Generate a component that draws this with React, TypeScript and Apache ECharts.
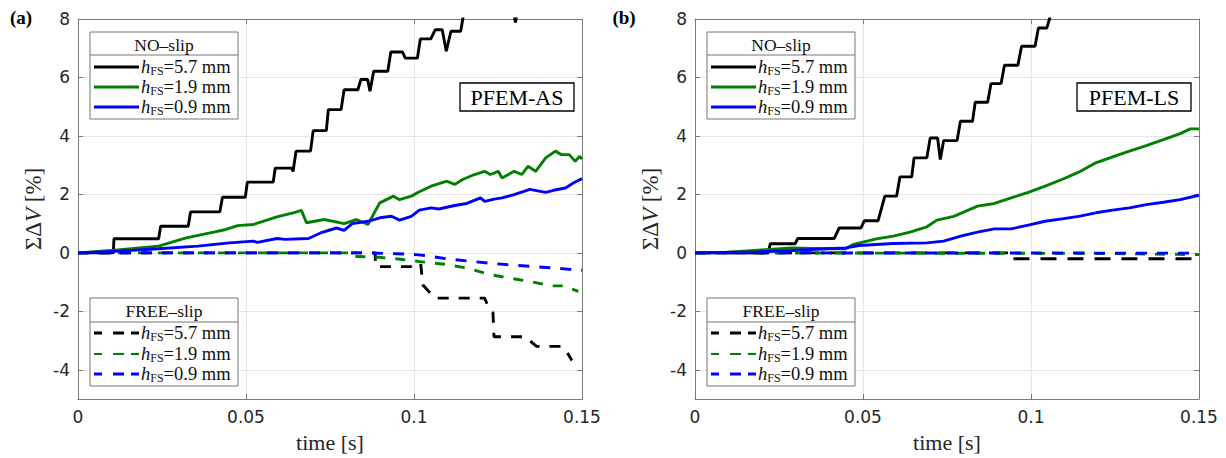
import React, { useEffect, useRef } from "react";
import * as echarts from "echarts";

type P = [number, number][];

// ---------- texts ----------
const panelLabels = ["(a)", "(b)"];
const methodLabels = ["PFEM-AS", "PFEM-LS"];
const legendTitles = ["NO\u2013slip", "FREE\u2013slip"];
const hValues = ["5.7", "1.9", "0.9"];
const xTicks = [0, 0.05, 0.1, 0.15];
const yTicks = [-4, -2, 0, 2, 4, 6, 8];

// ---------- data: panel (a) PFEM-AS ----------
const asNo57: P = [
  [0, 0], [0.0105, 0], [0.0107, 0.48], [0.024, 0.48], [0.0246, 0.91], [0.0328, 0.91], [0.0335, 1.4],
  [0.0422, 1.4], [0.043, 1.9], [0.0498, 1.9], [0.0504, 2.42], [0.0581, 2.42], [0.0587, 2.9],
  [0.0636, 2.9], [0.064, 2.78], [0.0649, 3.48], [0.0692, 3.48], [0.07, 4.18], [0.0739, 4.18],
  [0.0745, 4.9], [0.0783, 4.9], [0.0792, 5.58], [0.0833, 5.58], [0.0842, 5.93], [0.0862, 5.93],
  [0.0869, 5.53], [0.088, 6.21], [0.0922, 6.21], [0.0931, 6.87], [0.0966, 6.87], [0.0974, 6.66],
  [0.101, 6.66], [0.1019, 7.32], [0.105, 7.32], [0.1063, 7.63], [0.1084, 7.63], [0.1096, 6.9],
  [0.111, 7.58], [0.1139, 7.58], [0.1151, 8.4], [0.129, 8.6], [0.1302, 7.88], [0.1312, 8.6],
  [0.15, 9.5],
];
const asNo19: P = [
  [0, 0], [0.011, 0.09], [0.024, 0.23], [0.0322, 0.51], [0.0404, 0.71], [0.044, 0.8], [0.0475, 0.93],
  [0.0522, 0.97], [0.0592, 1.23], [0.064, 1.37], [0.0665, 1.45], [0.068, 1.03], [0.0733, 1.14],
  [0.0792, 1.0], [0.0828, 1.14], [0.0863, 0.97], [0.0898, 1.71], [0.0939, 1.94], [0.0957, 1.82],
  [0.0992, 1.94], [0.1016, 2.09], [0.1051, 2.28], [0.1098, 2.45], [0.1121, 2.34], [0.1145, 2.51],
  [0.118, 2.68], [0.121, 2.79], [0.1227, 2.68], [0.1251, 2.79], [0.1262, 2.56], [0.1298, 2.79],
  [0.1321, 2.68], [0.1339, 2.96], [0.1362, 2.79], [0.1392, 3.25], [0.1421, 3.48], [0.1439, 3.36],
  [0.1462, 3.36], [0.148, 3.13], [0.1492, 3.3], [0.15, 3.21],
];
const asNo09: P = [
  [0, 0], [0.0122, 0.06], [0.024, 0.14], [0.0357, 0.23], [0.0451, 0.34], [0.0522, 0.4], [0.0534, 0.36],
  [0.0592, 0.49], [0.0616, 0.46], [0.0686, 0.49], [0.0722, 0.68], [0.0769, 0.85], [0.0792, 0.77],
  [0.0816, 1.0], [0.0863, 1.08], [0.0898, 1.2], [0.0933, 1.25], [0.0957, 1.12], [0.0992, 1.25],
  [0.1016, 1.46], [0.1051, 1.54], [0.1074, 1.5], [0.1121, 1.62], [0.1157, 1.69], [0.1198, 1.88],
  [0.121, 1.76], [0.1239, 1.84], [0.1262, 1.88], [0.1298, 1.99], [0.1345, 2.17], [0.1392, 2.07],
  [0.1415, 2.14], [0.1451, 2.22], [0.1474, 2.39], [0.15, 2.54],
];
const asFree57: P = [
  [0, 0], [0.0884, 0], [0.0886, -0.47], [0.099, -0.47], [0.1, -0.37], [0.102, -0.37], [0.1026, -1.09],
  [0.1062, -1.55], [0.121, -1.55], [0.1225, -1.95], [0.1235, -2.05], [0.1238, -2.87], [0.133, -2.87],
  [0.1365, -3.2], [0.144, -3.2], [0.1454, -3.37], [0.147, -3.68],
];
const asFree19: P = [
  [0, 0], [0.0812, 0], [0.0815, -0.12], [0.0885, -0.14], [0.096, -0.22], [0.1018, -0.3],
  [0.1092, -0.39], [0.1157, -0.52], [0.1221, -0.73], [0.1286, -0.87], [0.1345, -0.98],
  [0.141, -1.13], [0.1444, -1.13], [0.1489, -1.32],
];
const asFree09: P = [
  [0, 0], [0.085, 0], [0.095, -0.03], [0.1005, -0.06], [0.104, -0.1], [0.11, -0.21], [0.117, -0.29],
  [0.1238, -0.37], [0.1306, -0.43], [0.137, -0.48], [0.144, -0.54], [0.15, -0.6],
];

// ---------- data: panel (b) PFEM-LS ----------
const lsNo57: P = [
  [0, 0], [0.0218, 0], [0.0224, 0.31], [0.0298, 0.31], [0.0306, 0.49], [0.0414, 0.49], [0.0429, 0.85],
  [0.0494, 0.85], [0.0504, 1.1], [0.0545, 1.1], [0.0565, 1.94], [0.06, 1.94], [0.061, 2.6],
  [0.0645, 2.6], [0.0652, 3.25], [0.069, 3.25], [0.07, 3.93], [0.0722, 3.93], [0.073, 3.19],
  [0.074, 3.84], [0.078, 3.84], [0.079, 4.5], [0.0826, 4.5], [0.0834, 5.15], [0.0871, 5.15],
  [0.0881, 5.79], [0.0911, 5.79], [0.0921, 6.42], [0.0961, 6.42], [0.0972, 7.07], [0.1012, 7.07],
  [0.1022, 7.69], [0.1047, 7.69], [0.106, 8.2], [0.15, 12],
];
const lsNo19: P = [
  [0, 0], [0.0087, 0.01], [0.0188, 0.09], [0.0288, 0.17], [0.0389, 0.14], [0.0449, 0.14], [0.0469, 0.28],
  [0.054, 0.48], [0.059, 0.57], [0.064, 0.71], [0.069, 0.89], [0.072, 1.12], [0.077, 1.25],
  [0.0841, 1.6], [0.0891, 1.69], [0.0941, 1.88], [0.0992, 2.07], [0.1042, 2.28], [0.1092, 2.51],
  [0.1142, 2.76], [0.1193, 3.08], [0.1243, 3.28], [0.1293, 3.48], [0.1343, 3.67], [0.1394, 3.87],
  [0.1444, 4.08], [0.1474, 4.24], [0.15, 4.24],
];
const lsNo09: P = [
  [0, 0], [0.0188, 0.03], [0.0288, 0.08], [0.0389, 0.14], [0.0449, 0.17], [0.0489, 0.25], [0.059, 0.32],
  [0.069, 0.34], [0.074, 0.4], [0.0791, 0.57], [0.0841, 0.71], [0.0891, 0.82], [0.0941, 0.82],
  [0.0992, 0.95], [0.1042, 1.08], [0.1092, 1.16], [0.1142, 1.25], [0.1193, 1.37], [0.1243, 1.46],
  [0.1293, 1.54], [0.1343, 1.65], [0.1394, 1.73], [0.1444, 1.82], [0.15, 1.97],
];
const lsFree57: P = [[0, 0], [0.094, 0], [0.0941, -0.2], [0.15, -0.2]];
const lsFree19: P = [[0, 0], [0.12, -0.02], [0.15, -0.06]];
const lsFree09: P = [[0, 0], [0.15, -0.01]];

// ---------- style ----------
const colors = ["#000000", "#008000", "#0000ff"];
const AXIS = "#7a7a7a";
const TXT = "#262626";
const SERIF = "'Liberation Serif', 'DejaVu Serif', serif";
const SANS = "'DejaVu Sans', sans-serif";

const GRID_TOP = 19;
const GRID_H = 380;
const GRID_W = 504;
const GRID_LEFTS = [78, 695];

function buildOption() {
  const panels = [
    { no: [asNo57, asNo19, asNo09], free: [asFree57, asFree19, asFree09] },
    { no: [lsNo57, lsNo19, lsNo09], free: [lsFree57, lsFree19, lsFree09] },
  ];
  const grids: any[] = [];
  const xAxes: any[] = [];
  const yAxes: any[] = [];
  const series: any[] = [];
  const graphics: any[] = [];

  panels.forEach((p, gi) => {
    const left = GRID_LEFTS[gi];
    grids.push({ left, top: GRID_TOP, width: GRID_W, height: GRID_H, containLabel: false });
    const baseX = {
      type: "value", gridIndex: gi, min: 0, max: 0.15, interval: 0.05,
      axisLine: { show: true, onZero: false, lineStyle: { color: AXIS, width: 1 } },
      axisTick: { show: true, inside: true, length: 5, lineStyle: { color: AXIS } },
    };
    xAxes.push({
      ...baseX, position: "bottom",
      axisLabel: {
        show: true, margin: 9, color: TXT, fontFamily: SANS, fontSize: 17,
        formatter: (v: number) => String(Math.round(v * 100) / 100),
        customValues: xTicks,
      },
      splitLine: { show: true, lineStyle: { color: "#e6e6e6", width: 1 } },
    });
    xAxes.push({ ...baseX, position: "top", axisLabel: { show: false }, splitLine: { show: false } });
    const baseY = {
      type: "value", gridIndex: gi, min: -5, max: 8,
      axisLine: { show: true, onZero: false, lineStyle: { color: AXIS, width: 1 } },
      axisTick: { show: true, inside: true, length: 5, lineStyle: { color: AXIS }, customValues: yTicks },
    };
    yAxes.push({
      ...baseY, position: "left",
      axisLabel: { show: true, margin: 8, color: TXT, fontFamily: SANS, fontSize: 17, customValues: yTicks },
      splitLine: { show: true, lineStyle: { color: "#e6e6e6", width: 1 } },
    });
    yAxes.push({ ...baseY, position: "right", axisLabel: { show: false }, splitLine: { show: false } });

    const xi = gi * 2;
    const yi = gi * 2;
    const dashes = [gi === 1 ? [16, 11] : [11, 10], [10, 10], [11, 10]];
    p.free.forEach((d, k) => {
      series.push({
        type: "line", data: d, xAxisIndex: xi, yAxisIndex: yi, showSymbol: false, symbol: "none",
        silent: true, clip: true, z: 2,
        lineStyle: { color: colors[k], width: 2.9, type: dashes[k] },
      });
    });
    p.no.forEach((d, k) => {
      series.push({
        type: "line", data: d, xAxisIndex: xi, yAxisIndex: yi, showSymbol: false, symbol: "none",
        silent: true, clip: true, z: 3,
        lineStyle: { color: colors[k], width: 2.9, type: "solid" },
      });
    });

    // ---------- graphics for this panel ----------
    const dx = left - GRID_LEFTS[0];
    const boxes = [
      { top: 32, sep: 55, bottom: 119, rows: [67, 87, 107], dashed: false },
      { top: 298, sep: 322, bottom: 386, rows: [333, 354, 374], dashed: true },
    ];
    boxes.forEach((b, bi) => {
      const bx = 90 + dx;
      const bw = 148;
      graphics.push({
        type: "rect", z: 100,
        shape: { x: bx, y: b.top, width: bw, height: b.bottom - b.top },
        style: { fill: "#ffffff", stroke: "#777777", lineWidth: 1 },
      });
      graphics.push({
        type: "line", z: 101,
        shape: { x1: bx, y1: b.sep, x2: bx + bw, y2: b.sep },
        style: { stroke: "#777777", lineWidth: 1 },
      });
      graphics.push({
        type: "text", z: 102, x: bx + bw / 2, y: (b.top + b.sep) / 2 + 1,
        style: {
          text: legendTitles[bi], fontFamily: SERIF, fontSize: 17.5, fill: "#111",
          align: "center", verticalAlign: "middle",
        },
      });
      b.rows.forEach((ry, k) => {
        graphics.push({
          type: "line", z: 101,
          shape: { x1: bx + 4, y1: ry, x2: bx + 49, y2: ry },
          style: {
            stroke: colors[k], lineWidth: b.dashed && k === 1 ? 2 : 3,
            lineDash: b.dashed ? [8, 11, 11, 7] : null,
          },
        });
        graphics.push({
          type: "text", z: 102, x: bx + 51, y: ry,
          style: {
            text: `{i|h}{s|FS}{n|=${hValues[k]} mm}`,
            align: "left", verticalAlign: "middle", fill: "#111",
            rich: {
              i: { fontFamily: SERIF, fontStyle: "italic", fontSize: 18.5, lineHeight: 20, verticalAlign: "middle", fill: "#111" },
              s: { fontFamily: SERIF, fontSize: 12, lineHeight: 11, verticalAlign: "bottom", fill: "#111" },
              n: { fontFamily: SERIF, fontSize: 18.5, lineHeight: 20, verticalAlign: "middle", fill: "#111" },
            },
          },
        });
      });
    });

    // method box
    const mx = 460 + dx;
    graphics.push({
      type: "rect", z: 100,
      shape: { x: mx, y: 83, width: 114, height: 28 },
      style: { fill: "#ffffff", stroke: "#000000", lineWidth: 1.3 },
    });
    graphics.push({
      type: "text", z: 102, x: mx + 57, y: 97.5,
      style: {
        text: methodLabels[gi], fontFamily: SERIF, fontSize: 22, fill: "#000",
        align: "center", verticalAlign: "middle",
      },
    });

    // panel label
    graphics.push({
      type: "text", z: 102, x: gi === 0 ? 21 : 624, y: 17,
      style: {
        text: panelLabels[gi], fontFamily: SERIF, fontSize: 19, fontWeight: "bold", fill: "#000",
        align: "center", verticalAlign: "middle",
      },
    });

    // y axis title
    graphics.push({
      type: "text", z: 102, x: 33 + dx, y: 209, rotation: Math.PI / 2,
      style: {
        text: "{n|\u03A3\u0394}{i|V}{n| [%]}",
        align: "center", verticalAlign: "middle", fill: TXT,
        rich: {
          n: { fontFamily: SERIF, fontSize: 23, fill: TXT },
          i: { fontFamily: SERIF, fontSize: 23, fontStyle: "italic", fill: TXT },
        },
      },
    });
    // x axis title
    graphics.push({
      type: "text", z: 102, x: left + GRID_W / 2, y: 442,
      style: {
        text: "time [s]", fontFamily: SERIF, fontSize: 22, fill: TXT,
        align: "center", verticalAlign: "middle",
      },
    });
  });

  return {
    animation: false,
    backgroundColor: "#ffffff",
    grid: grids,
    xAxis: xAxes,
    yAxis: yAxes,
    series,
    graphic: { elements: graphics },
  };
}

export default function App() {
  const ref = useRef<HTMLDivElement>(null);
  useEffect(() => {
    if (!ref.current) return;
    const chart = echarts.init(ref.current, undefined, { renderer: "svg" });
    chart.setOption(buildOption() as any);
    return () => chart.dispose();
  }, []);
  return (
    <div
      ref={ref}
      style={{ position: "absolute", left: 0, top: 0, width: 1226, height: 458, background: "#fff" }}
    />
  );
}
